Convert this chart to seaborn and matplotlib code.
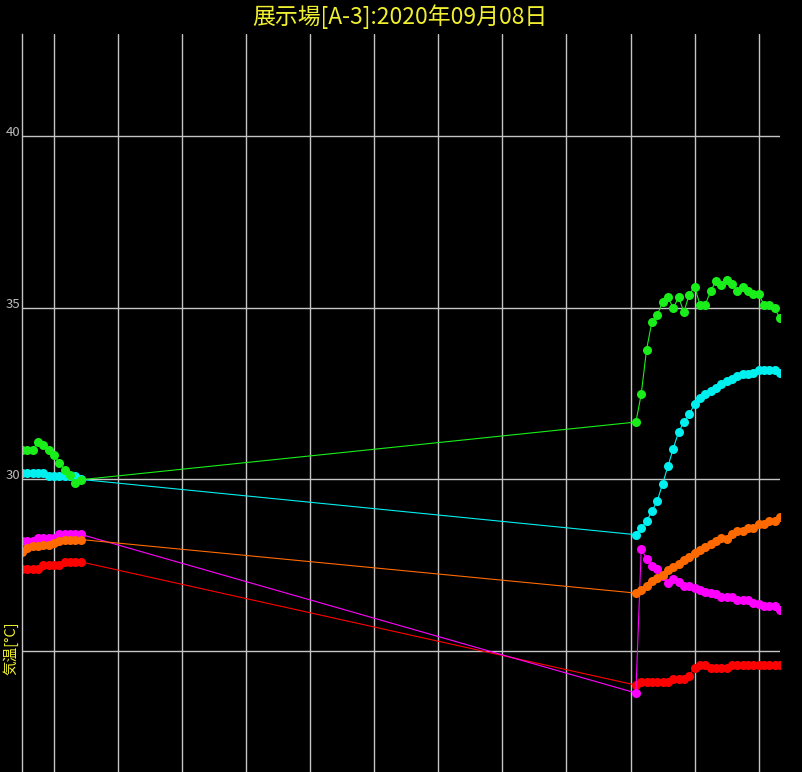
import pandas as pd
import numpy as np
import matplotlib.pyplot as plt
import matplotlib.dates as mdates
import seaborn as sns

left_times = ["2020-09-07 23:30", "2020-09-07 23:35", "2020-09-07 23:40", "2020-09-07 23:45",
              "2020-09-07 23:50", "2020-09-07 23:55", "2020-09-08 00:00", "2020-09-08 00:05",
              "2020-09-08 00:10", "2020-09-08 00:15", "2020-09-08 00:20", "2020-09-08 00:25"]
right_times = ["2020-09-08 09:05", "2020-09-08 09:10", "2020-09-08 09:15", "2020-09-08 09:20",
               "2020-09-08 09:25", "2020-09-08 09:30", "2020-09-08 09:35", "2020-09-08 09:40",
               "2020-09-08 09:45", "2020-09-08 09:50", "2020-09-08 09:55", "2020-09-08 10:00",
               "2020-09-08 10:05", "2020-09-08 10:10", "2020-09-08 10:15", "2020-09-08 10:20",
               "2020-09-08 10:25", "2020-09-08 10:30", "2020-09-08 10:35", "2020-09-08 10:40",
               "2020-09-08 10:45", "2020-09-08 10:50", "2020-09-08 10:55", "2020-09-08 11:00",
               "2020-09-08 11:05", "2020-09-08 11:10", "2020-09-08 11:15", "2020-09-08 11:20"]

red = [27.4, 27.4, 27.4, 27.4, 27.5, 27.5, 27.5, 27.5, 27.6, 27.6, 27.6, 27.6,
       24.01, 24.09, 24.09, 24.09, 24.09, 24.09, 24.09, 24.19, 24.19, 24.19, 24.29, 24.51,
       24.6, 24.6, 24.51, 24.51, 24.51, 24.51, 24.6, 24.6, 24.6, 24.6, 24.6, 24.6,
       24.6, 24.6, 24.6, 24.6]
magenta = [28.2, 28.2, 28.2, 28.3, 28.3, 28.3, 28.3, 28.4, 28.4, 28.4, 28.4, 28.4,
           23.78, 27.98, 27.69, 27.49, 27.38, 27.18, 26.99, 27.1, 27.0, 26.91, 26.91, 26.84,
           26.78, 26.71, 26.69, 26.67, 26.59, 26.59, 26.57, 26.49, 26.49, 26.49, 26.39, 26.36,
           26.3, 26.3, 26.3, 26.2]
orange = [27.9, 28.0, 28.05, 28.05, 28.1, 28.1, 28.15, 28.2, 28.25, 28.25, 28.25, 28.25,
          26.69, 26.78, 26.91, 27.03, 27.13, 27.23, 27.35, 27.44, 27.54, 27.64, 27.74, 27.85,
          27.93, 28.03, 28.12, 28.22, 28.3, 28.27, 28.4, 28.51, 28.51, 28.59, 28.59, 28.69,
          28.71, 28.8, 28.8, 28.9]
cyan = [30.2, 30.2, 30.2, 30.2, 30.2, 30.1, 30.1, 30.1, 30.1, 30.1, 30.1, 30.0,
        28.39, 28.59, 28.78, 29.08, 29.37, 29.87, 30.38, 30.9, 31.38, 31.67, 31.9, 32.19,
        32.38, 32.48, 32.57, 32.67, 32.77, 32.87, 32.91, 33.0, 33.08, 33.08, 33.1, 33.2,
        33.2, 33.2, 33.2, 33.1]
green = [30.87, 30.87, 30.87, 31.09, 30.99, 30.87, 30.70, 30.49, 30.28, 30.12, 29.89, 29.99,
         31.67, 32.48, 33.78, 34.59, 34.78, 35.17, 35.3, 34.99, 35.3, 34.88, 35.38, 35.61,
         35.09, 35.09, 35.48, 35.78, 35.66, 35.8, 35.69, 35.49, 35.61, 35.49, 35.39, 35.39,
         35.09, 35.09, 34.98, 34.69]

series_names = ["red", "magenta", "orange", "cyan", "green"]
series_values = [red, magenta, orange, cyan, green]
palette = {"red": "#ff0000", "magenta": "#ff00ff", "orange": "#ff6a00",
           "cyan": "#00f0f0", "green": "#1aee1a"}

times = pd.to_datetime(left_times + right_times)
frames = []
for name, vals in zip(series_names, series_values):
    frames.append(pd.DataFrame({"time": times, "temp": vals, "sensor": name}))
df = pd.concat(frames, ignore_index=True)

sns.set_style("dark", {"axes.facecolor": "black", "figure.facecolor": "black"})
plt.rcParams["font.family"] = ["Noto Sans CJK JP", "DejaVu Sans"]

fig = plt.figure(figsize=(8.02, 7.72), dpi=100, facecolor="black")
ax = fig.add_axes([22 / 802, 0, 758 / 802, 738 / 772])
ax.set_facecolor("black")

sns.lineplot(data=df, x="time", y="temp", hue="sensor", hue_order=series_names,
             palette=palette, marker="o", markersize=6.5, markeredgewidth=0,
             linewidth=0.8, estimator=None, errorbar=None, legend=False, ax=ax)

ax.set_xlim(times[0], times[-1])
ax.set_ylim(21.48, 42.97)
ax.set_yticks([25, 30, 35, 40])
ax.xaxis.set_major_locator(mdates.HourLocator())
ax.grid(True, color="#c4c4c4", linewidth=1)
ax.set_axisbelow(True)

for side in ["top", "right", "bottom"]:
    ax.spines[side].set_visible(False)
ax.spines["left"].set_color("#c4c4c4")
ax.spines["left"].set_linewidth(1)

ax.tick_params(axis="x", length=0, labelbottom=False)
ax.tick_params(axis="y", length=2.2, width=1, color="#c4c4c4", labelcolor="#bbbbbb",
               labelsize=9.5, pad=-1)
for lab in ax.get_yticklabels():
    lab.set_verticalalignment("baseline")
ax.set_xlabel("")
ax.set_ylabel("")

fig.text(400 / 802, 1 - 17 / 772, "展示場[A-3]:2020年09月08日", ha="center", va="center",
         fontsize=16.5, color="#f0f030")
# y label sits over the "25" tick label, as in the source chart
fig.text(11 / 802, 1 - 648 / 772, "気温[°C]", rotation=90, ha="center", va="center",
         fontsize=10.5, color="#f0f030", zorder=10,
         bbox=dict(facecolor="black", edgecolor="none", pad=0.5))

fig.savefig("out.png", dpi=100, facecolor="black")
